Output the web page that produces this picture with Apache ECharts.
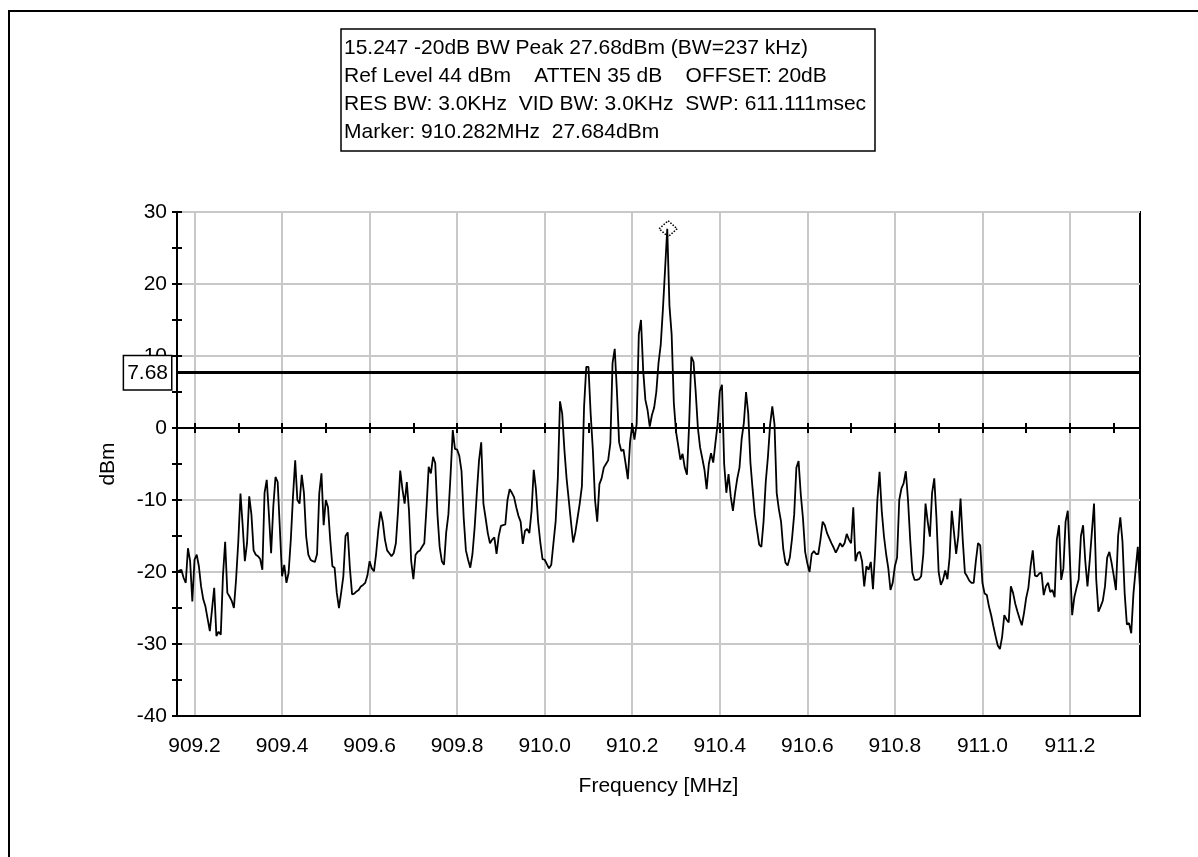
<!DOCTYPE html>
<html>
<head>
<meta charset="utf-8">
<script src="https://cdn.jsdelivr.net/npm/echarts@6.0.0/dist/echarts.min.js"></script>
<style>
html,body{margin:0;padding:0;background:#fff;}
#chart{width:1198px;height:857px;}
</style>
</head>
<body>
<div id="chart"></div>
<script>
// ---------------- data ----------------
const sweepStartMHz = 909.16;
const sweepStepMHz = 0.005;
const freqMinMHz = 909.16;
const freqMaxMHz = 911.36;

const levelDbm = [
-20.1,-19.8,-19.7,-20.8,-21.5,-16.7,-18.5,-24.1,-18.3,-17.6,
-19.2,-22.0,-23.8,-24.8,-26.5,-28.2,-25.2,-22.2,-28.9,-28.3,
-28.7,-20.5,-15.8,-22.9,-23.4,-24.0,-25.0,-21.0,-15.8,-9.1,
-13.5,-18.5,-16.0,-9.5,-12.0,-17.0,-17.6,-17.8,-18.2,-19.7,
-9.0,-7.2,-12.0,-17.4,-10.9,-6.8,-7.5,-14.0,-20.6,-19.0,
-21.5,-20.1,-15.5,-9.5,-4.5,-10.0,-10.5,-6.5,-9.0,-15.0,
-17.6,-18.3,-18.5,-18.6,-17.5,-9.1,-6.3,-13.5,-10.0,-11.0,
-15.5,-19.2,-19.4,-22.9,-25.0,-22.9,-20.6,-15.0,-14.5,-19.5,
-23.1,-23.0,-22.7,-22.5,-22.0,-21.8,-21.5,-20.5,-18.5,-19.5,
-19.9,-17.4,-14.1,-11.6,-13.0,-15.5,-17.0,-17.4,-17.8,-17.4,
-16.0,-11.5,-5.9,-8.5,-10.5,-7.5,-11.5,-18.5,-21.0,-17.6,
-17.2,-17.0,-16.5,-16.0,-11.0,-5.4,-6.3,-4.0,-4.9,-12.0,
-16.5,-18.5,-19.0,-14.5,-12.0,-6.5,-0.3,-2.9,-3.0,-3.9,
-6.0,-12.5,-17.0,-18.3,-19.4,-17.5,-13.8,-9.0,-4.5,-2.0,
-10.5,-12.5,-14.6,-16.0,-15.5,-15.2,-17.5,-15.0,-13.6,-13.5,
-13.4,-10.0,-8.5,-9.0,-9.6,-11.0,-12.2,-13.0,-16.1,-14.3,
-14.0,-14.6,-11.5,-5.8,-8.5,-13.0,-15.9,-18.2,-18.3,-18.9,
-19.5,-19.0,-16.0,-13.0,-7.0,3.7,2.0,-3.0,-7.0,-10.0,
-13.0,-15.9,-14.5,-12.5,-10.5,-8.1,3.0,8.5,8.5,2.0,
-3.0,-10.0,-13.0,-7.8,-7.0,-5.5,-5.0,-4.5,-2.1,9.0,
11.0,5.1,-2.0,-3.2,-3.0,-5.0,-7.1,-2.0,0.5,-1.6,
0.5,13.0,15.0,8.0,3.9,2.5,0.2,1.8,2.8,5.0,
9.0,11.5,16.4,22.0,27.68,17.0,13.0,3.5,-0.5,-2.4,
-4.4,-3.6,-5.5,-6.5,0.5,9.9,9.2,5.0,0.0,-2.7,
-4.2,-5.8,-8.5,-5.0,-3.5,-4.8,-2.1,0.5,5.1,6.0,
-5.0,-9.0,-6.4,-9.5,-11.5,-9.0,-7.0,-5.5,-1.5,0.7,
5.0,2.0,-4.8,-8.5,-12.0,-14.1,-16.2,-16.5,-13.0,-7.5,
-4.0,0.5,3.0,0.5,-9.0,-11.3,-13.0,-16.8,-18.7,-19.1,
-18.0,-15.4,-12.0,-5.5,-4.6,-9.2,-12.5,-17.2,-18.8,-20.0,
-17.5,-17.1,-17.5,-17.5,-15.5,-13.0,-13.5,-14.6,-15.3,-16.0,
-16.6,-17.3,-16.7,-16.0,-16.5,-16.0,-14.7,-15.5,-16.0,-11.0,
-18.5,-17.4,-17.2,-18.5,-22.0,-19.2,-19.7,-18.6,-22.4,-17.0,
-10.0,-6.1,-11.5,-15.0,-17.5,-19.5,-22.5,-21.5,-19.2,-18.0,
-10.0,-8.4,-7.7,-6.0,-10.0,-15.5,-20.1,-21.1,-21.1,-21.0,
-20.6,-17.5,-10.5,-13.0,-15.1,-9.0,-7.0,-12.5,-20.0,-21.8,
-21.1,-19.8,-21.0,-18.0,-11.5,-14.5,-17.5,-15.0,-9.8,-15.5,
-20.1,-20.6,-21.2,-21.5,-21.5,-18.5,-16.0,-16.3,-21.5,-23.0,
-23.2,-24.8,-26.0,-27.5,-28.9,-30.2,-30.7,-29.0,-26.0,-26.6,
-27.0,-22.0,-22.9,-24.4,-25.5,-26.5,-27.4,-25.7,-23.6,-22.2,
-19.2,-17.0,-20.5,-20.6,-20.2,-20.1,-23.2,-22.0,-21.5,-22.8,
-22.5,-23.5,-15.5,-13.5,-21.1,-19.5,-13.0,-11.5,-18.5,-26.0,
-23.5,-22.2,-21.0,-15.0,-13.5,-18.5,-22.0,-18.5,-14.5,-10.5,
-21.0,-25.5,-24.8,-24.0,-22.0,-18.0,-17.2,-18.7,-20.5,-22.5,
-15.0,-12.4,-15.8,-23.0,-27.3,-27.1,-28.5,-23.0,-19.7,-16.5,
-22.4
];

const xLabelValues = [909.2, 909.4, 909.6, 909.8, 910.0, 910.2, 910.4, 910.6, 910.8, 911.0, 911.2];
const xZeroTickValues = [909.2, 909.3, 909.4, 909.5, 909.6, 909.7, 909.8, 909.9, 910.0, 910.1, 910.2,
                         910.3, 910.4, 910.5, 910.6, 910.7, 910.8, 910.9, 911.0, 911.1, 911.2, 911.3];
const yMinDbm = -40;
const yMaxDbm = 30;
const yStepDbm = 10;

const thresholdDbm = 7.68;
const markerFreqMHz = 910.282;
const markerLevelDbm = 27.684;

const infoLines = [
  '15.247 -20dB BW Peak 27.68dBm (BW=237 kHz)',
  'Ref Level 44 dBm    ATTEN 35 dB    OFFSET: 20dB',
  'RES BW: 3.0KHz  VID BW: 3.0KHz  SWP: 611.111msec',
  'Marker: 910.282MHz  27.684dBm'
];
const xAxisTitle = 'Frequency [MHz]';
const yAxisTitle = 'dBm';

// ---------------- chart ----------------
const FONT = "'Liberation Sans', Arial, sans-serif";
const seriesData = levelDbm.map((v, i) => [Number((sweepStartMHz + i * sweepStepMHz).toFixed(3)), v]);

const chart = echarts.init(document.getElementById('chart'), null, {renderer: 'canvas'});

const black = '#000';
const gridGray = '#c8c8c8';

const option = {
  animation: false,
  backgroundColor: '#fff',
  textStyle: {fontFamily: FONT},
  title: {
    text: infoLines.join('\n'),
    left: 341,
    top: 29,
    padding: [5, 9, 5, 3],
    borderColor: black,
    borderWidth: 1.5,
    textStyle: {fontFamily: FONT, fontSize: 21, fontWeight: 'normal', color: black, lineHeight: 28}
  },
  graphic: [{
    type: 'rect',
    silent: true,
    shape: {x: 9, y: 11, width: 1400, height: 1000},
    style: {fill: 'transparent', stroke: black, lineWidth: 2}
  }],
  grid: {
    left: 177, top: 212, right: 58, bottom: 141,
    show: true, borderColor: black, borderWidth: 2, backgroundColor: 'transparent'
  },
  xAxis: [
    {
      type: 'value', min: freqMinMHz, max: freqMaxMHz, position: 'bottom',
      axisLine: {onZero: false, lineStyle: {color: black, width: 2}},
      axisTick: {show: false, customValues: xLabelValues},
      axisLabel: {customValues: xLabelValues, formatter: v => Number(v).toFixed(1),
                  fontSize: 21, color: black, margin: 20, fontFamily: FONT},
      splitLine: {show: true, lineStyle: {color: gridGray, width: 2}},
      name: xAxisTitle, nameLocation: 'middle', nameGap: 60,
      nameTextStyle: {fontSize: 21, color: black, fontFamily: FONT}
    },
    {
      type: 'value', min: freqMinMHz, max: freqMaxMHz, position: 'bottom',
      axisLine: {onZero: true, onZeroAxisIndex: 0, lineStyle: {color: black, width: 2}},
      axisTick: {show: true, customValues: xZeroTickValues, length: 5, inside: false, lineStyle: {color: black, width: 2}},
      axisLabel: {show: false},
      splitLine: {show: false}
    },
    {
      type: 'value', min: freqMinMHz, max: freqMaxMHz, position: 'bottom',
      axisLine: {onZero: true, onZeroAxisIndex: 0, lineStyle: {color: black, width: 2}},
      axisTick: {show: true, customValues: xZeroTickValues, length: 5, inside: true, lineStyle: {color: black, width: 2}},
      axisLabel: {show: false},
      splitLine: {show: false}
    }
  ],
  yAxis: [
    {
      type: 'value', min: yMinDbm, max: yMaxDbm, interval: yStepDbm, position: 'left',
      axisLine: {show: true, onZero: false, lineStyle: {color: black, width: 2}},
      axisTick: {show: true, length: 5, inside: false, lineStyle: {color: black, width: 2}},
      minorTick: {show: true, splitNumber: 2, length: 5, lineStyle: {color: black, width: 2}},
      axisLabel: {fontSize: 21, color: black, margin: 10, fontFamily: FONT},
      splitLine: {show: true, lineStyle: {color: gridGray, width: 2}},
      name: yAxisTitle, nameLocation: 'middle', nameGap: 58,
      nameTextStyle: {fontSize: 21, color: black, fontFamily: FONT}
    },
    {
      type: 'value', min: yMinDbm, max: yMaxDbm, interval: yStepDbm, position: 'left',
      axisLine: {show: false, onZero: false},
      axisTick: {show: true, length: 5, inside: true, lineStyle: {color: black, width: 2}},
      minorTick: {show: true, splitNumber: 2, length: 5, lineStyle: {color: black, width: 2}},
      axisLabel: {show: false},
      splitLine: {show: false}
    }
  ],
  series: [{
    type: 'line',
    xAxisIndex: 0, yAxisIndex: 0,
    data: seriesData,
    showSymbol: false, symbol: 'none',
    clip: false, silent: true, z: 3,
    lineStyle: {color: black, width: 1.8},
    markLine: {
      silent: true,
      symbol: ['none', 'none'],
      data: [{yAxis: thresholdDbm}],
      lineStyle: {color: black, width: 3, type: 'solid'},
      label: {
        show: true, position: 'start', distance: 6,
        formatter: thresholdDbm.toFixed(2),
        fontSize: 21, color: black, fontFamily: FONT,
        backgroundColor: '#fff', borderColor: black, borderWidth: 1.5,
        padding: [7, 3, 5, 3]
      },
      emphasis: {disabled: true}
    },
    markPoint: {
      silent: true,
      symbol: 'diamond',
      symbolSize: [18, 16],
      data: [{coord: [markerFreqMHz, markerLevelDbm]}],
      itemStyle: {color: 'transparent', borderColor: black, borderWidth: 1.5, borderType: 'dotted'},
      label: {show: false}
    }
  }]
};

chart.setOption(option);
</script>
</body>
</html>
